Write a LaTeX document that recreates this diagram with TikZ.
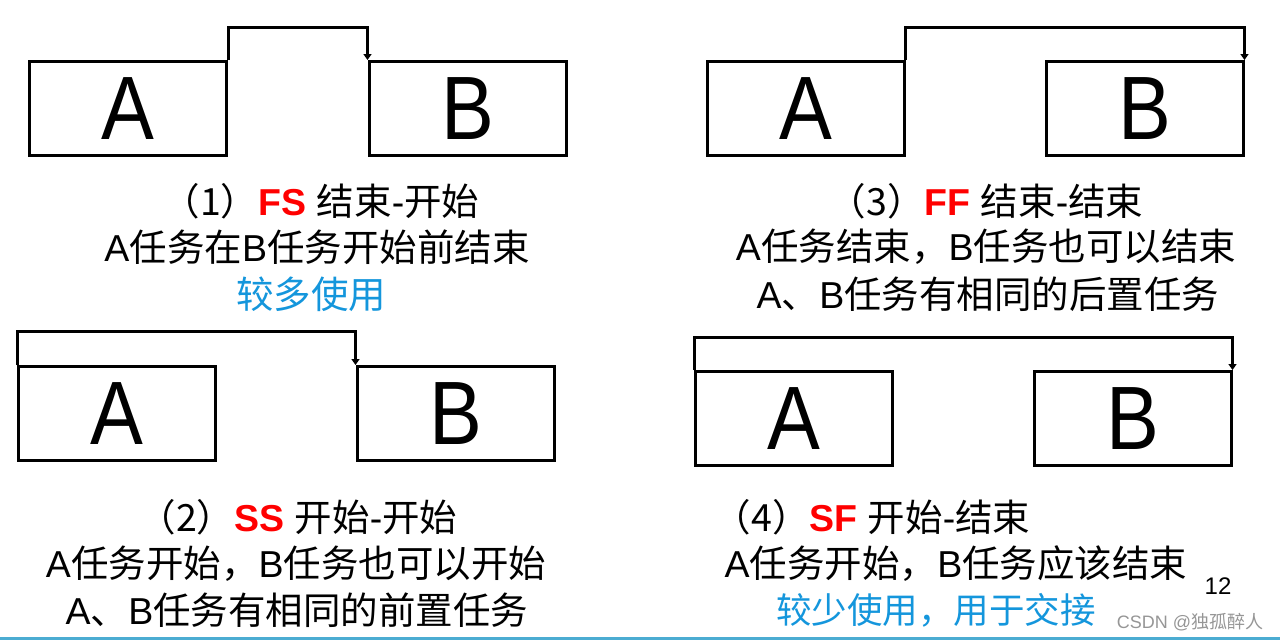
\documentclass[tikz,border=0pt]{standalone}
\usepackage{fontspec}
\setmainfont{Liberation Sans}
\newfontfamily\cjk{Noto Sans CJK SC}
\newfontfamily\boxfont[FakeStretch=0.88]{Liberation Sans}
\usetikzlibrary{arrows.meta}
\definecolor{fsred}{RGB}{255,0,0}
\definecolor{noteblue}{RGB}{20,150,220}
\definecolor{barblue}{RGB}{75,172,210}
\definecolor{wmgray}{RGB}{150,150,150}
\begin{document}
\begin{tikzpicture}[x=1pt,y=-1pt,
  box/.style={draw,line width=3pt,minimum width=197pt,minimum height=94pt,inner sep=0pt,
    font=\boxfont\fontsize{90}{90}\selectfont},
  conn/.style={line width=3pt,line join=miter,-{Triangle[width=8pt,length=6pt]}},
  txt/.style={inner sep=0pt,font=\fontsize{37.5}{40}\selectfont}]
\useasboundingbox (0,0) rectangle (1280,640);
\fill[white] (0,0) rectangle (1280,640);
% panel 1
\node[box] (a1) at (128,108.5) {A};
\node[box] (b1) at (467.5,108.5) {B};
\draw[conn] (a1.north east) -- ++(0,-33) -| (b1.north west);
\node[txt] (t11) at (321,201) {{\cjk（1）}\textcolor{fsred}{\bfseries FS} {\cjk 结束}-{\cjk 开始}};
\node[txt] (t12) at (317,247) {A{\cjk 任务在}B{\cjk 任务开始前结束}};
\node[txt,text=noteblue] (t13) at (311,294) {\cjk 较多使用};
% panel 3
\node[box] (a3) at (805.5,108.5) {A};
\node[box] (b3) at (1144.5,108.5) {B};
\draw[conn] (a3.north east) -- ++(0,-33) -| (b3.north east);
\node[txt] (t31) at (986,201) {{\cjk（3）}\textcolor{fsred}{\bfseries FF} {\cjk 结束}-{\cjk 结束}};
\node[txt] (t32) at (986,247) {A{\cjk 任务结束，}B{\cjk 任务也可以结束}};
\node[txt] (t33) at (988,294) {A{\cjk 、}B{\cjk 任务有相同的后置任务}};
% panel 2
\node[box] (a2) at (117,413.5) {A};
\node[box] (b2) at (455.5,413.5) {B};
\draw[conn] (a2.north west) -- ++(0,-34) -| (b2.north west);
\node[txt] (t21) at (298,517) {{\cjk（2）}\textcolor{fsred}{\bfseries SS} {\cjk 开始}-{\cjk 开始}};
\node[txt] (t22) at (296,564) {A{\cjk 任务开始，}B{\cjk 任务也可以开始}};
\node[txt] (t23) at (297,610) {A{\cjk 、}B{\cjk 任务有相同的前置任务}};
% panel 4
\node[box] (a4) at (794,418.5) {A};
\node[box] (b4) at (1132.5,418.5) {B};
\draw[conn] (a4.north west) -- ++(0,-33) -| (b4.north east);
\node[txt] (t41) at (872,517) {{\cjk（4）}\textcolor{fsred}{\bfseries SF} {\cjk 开始}-{\cjk 结束}};
\node[txt] (t42) at (956,564) {A{\cjk 任务开始，}B{\cjk 任务应该结束}};
\node[txt,text=noteblue,font=\fontsize{35.5}{40}\selectfont] (t43) at (936,610) {\cjk 较少使用，用于交接};
% page number and watermark
\node[inner sep=0pt,font=\fontsize{24}{24}\selectfont] (pg) at (1218,586) {12};
\node[inner sep=0pt,text=wmgray,font=\fontsize{18}{18}\selectfont] (wm) at (1190,622) {CSDN @{\cjk 独孤醉人}};
\fill[barblue] (0,636.5) rectangle (1280,640);
\end{tikzpicture}
\end{document}
